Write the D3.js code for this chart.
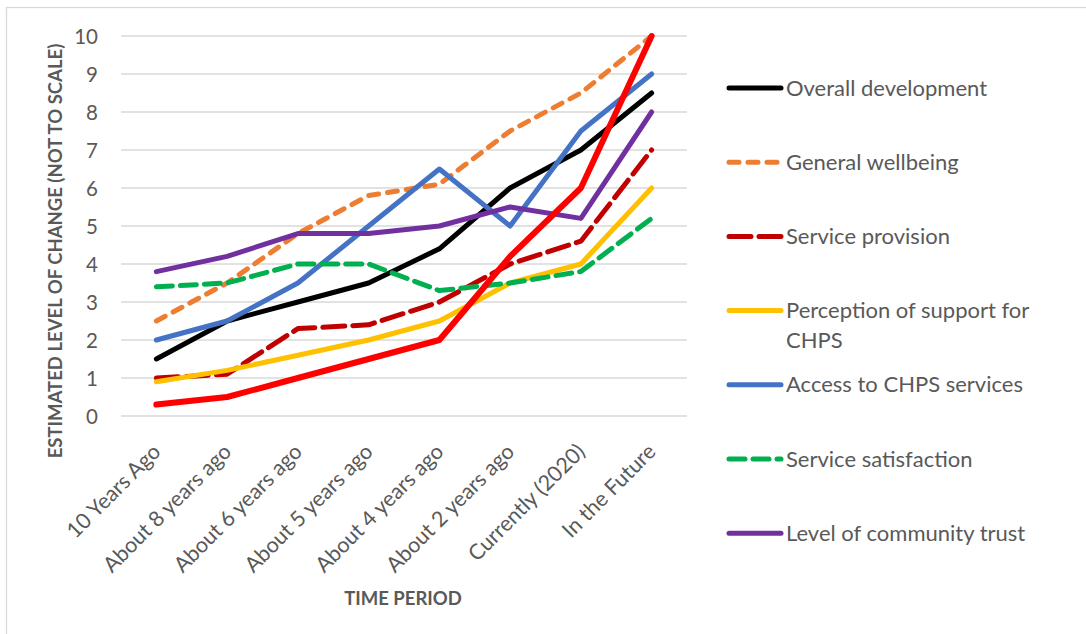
<!DOCTYPE html>
<html>
<head>
<meta charset="utf-8">
<script src="https://cdn.jsdelivr.net/npm/d3@7"></script>
<style>
  html, body { margin: 0; padding: 0; background: #ffffff; }
  svg { display: block; }
  text { font-family: "Lato", "Open Sans", sans-serif; }
</style>
</head>
<body>
<svg id="chart" width="1086" height="634"></svg>
<script>
// Time periods along the x axis
const periods = [
  "10 Years Ago", "About 8 years ago", "About 6 years ago", "About 5 years ago",
  "About 4 years ago", "About 2 years ago", "Currently (2020)", "In the Future"
];

// Estimated level of change for each indicator
const overallDevelopment   = [1.5, 2.5, 3.0, 3.5, 4.4, 6.0, 7.0, 8.5];
const generalWellbeing     = [2.5, 3.5, 4.8, 5.8, 6.1, 7.5, 8.5, 10.0];
const serviceProvision     = [1.0, 1.1, 2.3, 2.4, 3.0, 4.0, 4.6, 7.0];
const perceptionOfSupport  = [0.9, 1.2, 1.6, 2.0, 2.5, 3.5, 4.0, 6.0];
const accessToServices     = [2.0, 2.5, 3.5, 5.0, 6.5, 5.0, 7.5, 9.0];
const serviceSatisfaction  = [3.4, 3.5, 4.0, 4.0, 3.3, 3.5, 3.8, 5.2];
const communityTrust       = [3.8, 4.2, 4.8, 4.8, 5.0, 5.5, 5.2, 8.0];
const unlabelledSeries     = [0.3, 0.5, 1.0, 1.5, 2.0, 4.2, 6.0, 10.0];

const yTicks = [0, 1, 2, 3, 4, 5, 6, 7, 8, 9, 10];

const series = [
  { name: ["Overall development"], values: overallDevelopment, color: "#000000", dash: null, width: 5, legend: true },
  { name: ["General wellbeing"], values: generalWellbeing, color: "#ED7D31", dash: "10,9", width: 5, legend: true },
  { name: ["Service provision"], values: serviceProvision, color: "#C00000", dash: "22,8", width: 5, legend: true },
  { name: ["Perception of support for", "CHPS"], values: perceptionOfSupport, color: "#FFC000", dash: null, width: 5, legend: true },
  { name: ["Access to CHPS services"], values: accessToServices, color: "#4472C4", dash: null, width: 5, legend: true },
  { name: ["Service satisfaction"], values: serviceSatisfaction, color: "#00B050", dash: "16,8", width: 5, legend: true },
  { name: ["Level of community trust"], values: communityTrust, color: "#7030A0", dash: null, width: 5, legend: true },
  { name: [""], values: unlabelledSeries, color: "#FF0000", dash: null, width: 6, legend: false }
];

const svg = d3.select("#chart");

// chart frame
svg.append("rect")
  .attr("x", 6.5).attr("y", 7.5)
  .attr("width", 1100).attr("height", 640)
  .attr("fill", "none").attr("stroke", "#d9d9d9").attr("stroke-width", 1.3);

const plot = { left: 121, right: 687, top: 36, bottom: 416 };

const x = d3.scalePoint().domain(periods).range([plot.left, plot.right]).padding(0.5);
const y = d3.scaleLinear().domain([0, 10]).range([plot.bottom, plot.top]);

// horizontal gridlines
svg.append("g")
  .selectAll("line")
  .data(yTicks)
  .join("line")
  .attr("x1", plot.left).attr("x2", plot.right)
  .attr("y1", d => y(d)).attr("y2", d => y(d))
  .attr("stroke", "#d9d9d9").attr("stroke-width", 1.5);

// y axis tick labels
const yAxis = svg.append("g")
  .attr("transform", `translate(${plot.left - 23},0)`)
  .call(d3.axisLeft(y).tickValues(yTicks).tickSize(0).tickPadding(0).tickFormat(d3.format("d")));
yAxis.select(".domain").remove();
yAxis.selectAll("text")
  .attr("fill", "#595959")
  .style("font-size", "20.5px")
  .style("font-family", "Lato, 'Open Sans', sans-serif")
  .attr("dy", "0.36em");

// x axis category labels, rotated
const xAxis = svg.append("g")
  .attr("transform", `translate(0,${plot.bottom})`)
  .call(d3.axisBottom(x).tickSize(0).tickPadding(0));
xAxis.select(".domain").remove();
xAxis.selectAll("text")
  .attr("fill", "#595959")
  .style("font-size", "21.5px")
  .style("font-family", "Lato, 'Open Sans', sans-serif")
  .attr("text-anchor", "end")
  .attr("dy", null)
  .attr("y", 0)
  .attr("transform", "translate(5,37) rotate(-45)");

// axis titles
svg.append("text")
  .attr("x", 403).attr("y", 605)
  .attr("text-anchor", "middle")
  .attr("fill", "#595959")
  .style("font-size", "18.5px").style("font-weight", "bold")
  .text("TIME PERIOD");

svg.append("text")
  .attr("transform", "translate(62,251) rotate(-90)")
  .attr("text-anchor", "middle")
  .attr("fill", "#595959")
  .style("font-size", "18.5px").style("font-weight", "bold")
  .text("ESTIMATED LEVEL OF CHANGE (NOT TO SCALE)");

// series lines
const line = d3.line()
  .x((d, i) => x(periods[i]))
  .y(d => y(d));

svg.append("g")
  .selectAll("path")
  .data(series)
  .join("path")
  .attr("d", d => line(d.values))
  .attr("fill", "none")
  .attr("stroke", d => d.color)
  .attr("stroke-width", d => d.width)
  .attr("stroke-linecap", "round")
  .attr("stroke-linejoin", "round")
  .attr("stroke-dasharray", d => d.dash);

// legend
const legendItems = series.filter(s => s.legend);
const legend = svg.append("g");
const rowStep = 74.2, firstRow = 88;
legendItems.forEach((s, i) => {
  const cy = firstRow + i * rowStep;
  legend.append("line")
    .attr("x1", 729).attr("x2", 781)
    .attr("y1", cy).attr("y2", cy)
    .attr("stroke", s.color).attr("stroke-width", s.width)
    .attr("stroke-linecap", "round")
    .attr("stroke-dasharray", s.dash);
  const t = legend.append("text")
    .attr("x", 786).attr("y", cy + 7.5)
    .attr("fill", "#595959")
    .style("font-size", "22px");
  s.name.forEach((ln, j) => {
    t.append("tspan").attr("x", 786).attr("dy", j === 0 ? 0 : 30).text(ln);
  });
});
</script>
</body>
</html>
